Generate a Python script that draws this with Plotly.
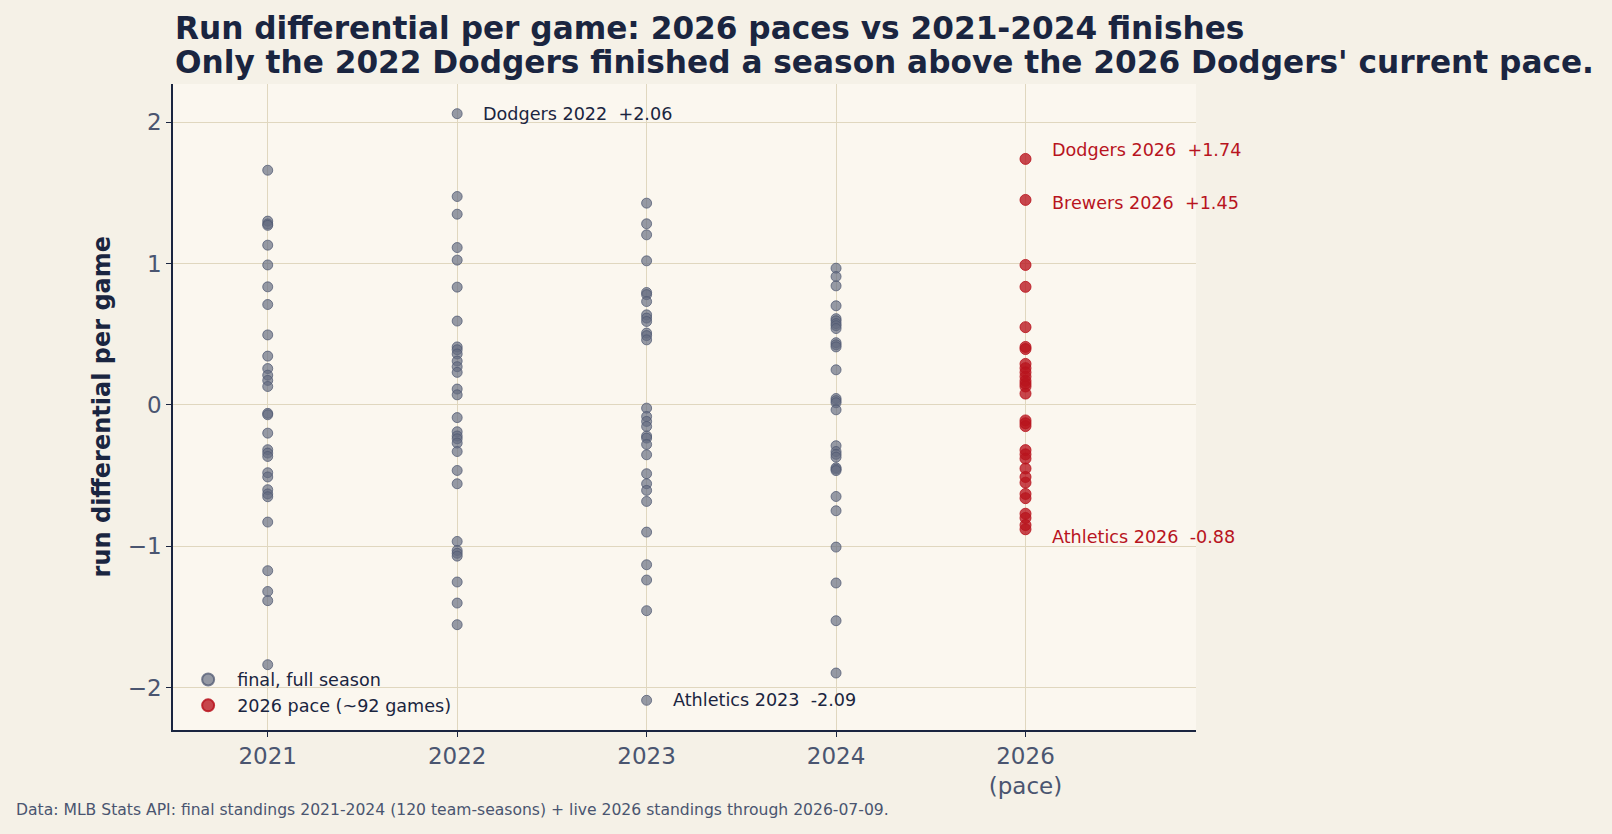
import plotly.graph_objects as go

seasons = ["2021", "2022", "2023", "2024", "2026"]
tick_labels = ["2021", "2022", "2023", "2024", "2026<br>(pace)"]

rd_2021 = [1.66, 1.30, 1.28, 1.27, 1.13, 0.99, 0.835, 0.71, 0.495, 0.345, 0.257, 0.21, 0.173, 0.13,
           -0.06, -0.07, -0.20, -0.317, -0.341, -0.365, -0.48, -0.51, -0.60, -0.63, -0.65,
           -0.829, -1.173, -1.32, -1.385, -1.838]
rd_2022 = [2.06, 1.474, 1.349, 1.113, 1.024, 0.833, 0.593, 0.41, 0.39, 0.36, 0.31, 0.27, 0.23,
           0.112, 0.071, -0.09, -0.19, -0.22, -0.24, -0.27, -0.33, -0.464, -0.558, -0.966,
           -1.03, -1.05, -1.07, -1.253, -1.402, -1.555]
rd_2023 = [1.427, 1.281, 1.203, 1.019, 0.795, 0.78, 0.731, 0.637, 0.614, 0.59, 0.508, 0.49, 0.46,
           -0.023, -0.082, -0.117, -0.153, -0.22, -0.235, -0.28, -0.353, -0.487, -0.558, -0.605,
           -0.683, -0.90, -1.131, -1.239, -1.456, -2.09]
rd_2024 = [0.967, 0.908, 0.842, 0.701, 0.61, 0.595, 0.575, 0.56, 0.54, 0.44, 0.425, 0.41, 0.248,
           0.045, 0.03, 0.015, -0.035, -0.289, -0.33, -0.35, -0.37, -0.445, -0.455, -0.465,
           -0.648, -0.749, -1.006, -1.26, -1.527, -1.897]
rd_2026 = [1.74, 1.45, 0.99, 0.835, 0.55, 0.41, 0.395, 0.29, 0.26, 0.23, 0.20, 0.17, 0.15, 0.13,
           0.08, -0.11, -0.13, -0.15, -0.32, -0.35, -0.38, -0.45, -0.51, -0.55, -0.63, -0.66,
           -0.77, -0.80, -0.85, -0.88]

labels = [  # (season index, value, text, color, yshift)
    (1, 2.06, "Dodgers 2022 \u00a0+2.06", "#1a2540", 0),
    (2, -2.09, "Athletics 2023 \u00a0-2.09", "#1a2540", 0),
    (4, 1.74, "Dodgers 2026 \u00a0+1.74", "#b8141e", 9),
    (4, 1.45, "Brewers 2026 \u00a0+1.45", "#b8141e", -3),
    (4, -0.88, "Athletics 2026 \u00a0-0.88", "#b8141e", -8),
]

NAVY = "#1a2540"
GRAY_TXT = "#4a5570"
FONT = "DejaVu Sans"
GRID = "#e0d7bf"

hist = [rd_2021, rd_2022, rd_2023, rd_2024]
hx, hy = [], []
for i, vals in enumerate(hist):
    hx += [i] * len(vals)
    hy += vals

fig = go.Figure()
fig.add_trace(go.Scatter(
    x=hx, y=hy, mode="markers", name="final, full season",
    marker=dict(size=10, color="rgba(100,108,128,0.68)",
                line=dict(width=1, color="rgba(80,90,115,0.75)")),
))
fig.add_trace(go.Scatter(
    x=[4] * len(rd_2026), y=rd_2026, mode="markers", name="2026 pace (~92 games)",
    marker=dict(size=11, color="rgba(184,20,30,0.78)",
                line=dict(width=1, color="rgba(184,20,30,0.85)")),
))

anns = []
for xi, v, t, c, ys in labels:
    anns.append(dict(x=xi, y=v, xref="x", yref="y", text=t, showarrow=False,
                     xanchor="left", yanchor="middle", xshift=24, yshift=ys,
                     font=dict(family=FONT, size=17.6, color=c)))

anns += [
    dict(x=0, y=1.0867, xref="paper", yref="paper", xanchor="left", yanchor="middle",
         text="<b>Run differential per game: 2026 paces vs 2021-2024 finishes</b>",
         showarrow=False, font=dict(family=FONT, size=31.2, color=NAVY)),
    dict(x=0, y=1.034, xref="paper", yref="paper", xanchor="left", yanchor="middle",
         text="<b>Only the 2022 Dodgers finished a season above the 2026 Dodgers' current pace.</b>",
         showarrow=False, font=dict(family=FONT, size=31.2, color=NAVY)),
    dict(x=-0.069, y=0.5, xref="paper", yref="paper", xanchor="center", yanchor="middle",
         text="<b>run differential per game</b>", textangle=-90, showarrow=False,
         font=dict(family=FONT, size=24, color=NAVY)),
    dict(x=(14 - 173) / 1023, y=(730 - 810) / 646, xref="paper", yref="paper",
         xanchor="left", yanchor="middle", showarrow=False,
         text="Data: MLB Stats API: final standings 2021-2024 (120 team-seasons) + live 2026 standings through 2026-07-09.",
         font=dict(family=FONT, size=15.6, color=GRAY_TXT)),
]

fig.update_layout(
    width=1612, height=834,
    margin=dict(l=173, r=416, t=84, b=104),
    paper_bgcolor="#f5f1e7",
    plot_bgcolor="#fbf7ef",
    font=dict(family=FONT, color=NAVY),
    showlegend=True,
    legend=dict(x=0.006, y=0.01, xanchor="left", yanchor="bottom",
                bgcolor="rgba(0,0,0,0)", font=dict(family=FONT, size=17.6, color=NAVY),
                itemsizing="constant", itemwidth=48, tracegroupgap=0),
    annotations=anns,
    xaxis=dict(range=[-0.5, 4.9], tickmode="array", tickvals=list(range(len(seasons))),
               ticktext=tick_labels, showgrid=True, gridcolor=GRID, gridwidth=1.2,
               zeroline=False, showline=True, linecolor=NAVY, linewidth=1.5,
               ticks="outside", ticklen=5, tickcolor=NAVY,
               tickfont=dict(family=FONT, size=23, color=GRAY_TXT)),
    yaxis=dict(range=[-2.3, 2.27], tickvals=[-2, -1, 0, 1, 2], showgrid=True,
               gridcolor=GRID, gridwidth=1.2, zeroline=False, showline=True,
               linecolor=NAVY, linewidth=1.5, ticks="outside", ticklen=5, tickcolor=NAVY,
               tickfont=dict(family=FONT, size=23, color=GRAY_TXT)),
)

fig.write_html("out.html")
